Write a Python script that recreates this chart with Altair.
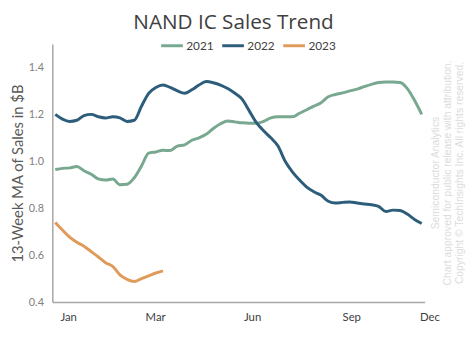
import altair as alt
import pandas as pd

weeks = list(range(1, 53))

sales_2021 = [0.965, 0.970, 0.972, 0.978, 0.960, 0.945, 0.925, 0.920, 0.925, 0.900,
              0.902, 0.930, 0.980, 1.035, 1.040, 1.047, 1.046, 1.065, 1.070, 1.090,
              1.100, 1.115, 1.140, 1.160, 1.172, 1.168, 1.164, 1.162, 1.162, 1.170,
              1.185, 1.190, 1.190, 1.190, 1.205, 1.220, 1.235, 1.250, 1.275, 1.285,
              1.292, 1.300, 1.308, 1.318, 1.328, 1.336, 1.338, 1.338, 1.336, 1.310,
              1.260, 1.200]

sales_2022 = [1.200, 1.180, 1.170, 1.175, 1.195, 1.200, 1.190, 1.185, 1.190, 1.185,
              1.170, 1.175, 1.235, 1.290, 1.315, 1.325, 1.315, 1.300, 1.290, 1.305,
              1.325, 1.340, 1.335, 1.325, 1.310, 1.290, 1.265, 1.215, 1.165, 1.130,
              1.100, 1.065, 1.000, 0.955, 0.920, 0.890, 0.870, 0.855, 0.830, 0.822,
              0.825, 0.827, 0.822, 0.818, 0.815, 0.808, 0.786, 0.792, 0.790, 0.775,
              0.752, 0.735]

sales_2023 = [0.739, 0.707, 0.677, 0.655, 0.638, 0.615, 0.592, 0.568, 0.552, 0.516,
              0.497, 0.488, 0.500, 0.512, 0.524, 0.533]

years = ["2021", "2022", "2023"]
colors = ["#78a890", "#2c5d7b", "#e09a5a"]

tick_weeks = [2.11, 14.21, 27.71, 41.51, 52.41]
tick_labels = ["Jan", "Mar", "Jun", "Sep", "Dec"]

watermark = ["Semiconductor Analytics",
             "Chart approved for public release with attribution.",
             "Copyright \u00a9 TechInsights Inc.  All rights reserved."]

rows = []
for y, series in zip(years, [sales_2021, sales_2022, sales_2023]):
    for w, v in zip(weeks, series):
        rows.append({"week": w, "sales": v, "year": y})
df = pd.DataFrame(rows)

label_expr = " : ".join(
    f"datum.value < {t + 0.5} ? '{l}'" for t, l in zip(tick_weeks[:-1], tick_labels[:-1])
) + f" : '{tick_labels[-1]}'"

W, H = 378, 262

lines = alt.Chart(df).mark_line(strokeWidth=3, interpolate="monotone").encode(
    x=alt.X("week:Q",
            scale=alt.Scale(domain=[0.59, 52.41], nice=False, zero=False),
            axis=alt.Axis(values=tick_weeks, labelExpr=label_expr, title=None,
                          grid=False, ticks=False, labelPadding=10, labelFlush=False,
                          labelFont="Lato", labelFontSize=11.5, labelColor="#404040",
                          domainColor="#a6a6a6", domainWidth=1.5, labelOffset=5)),
    y=alt.Y("sales:Q",
            scale=alt.Scale(domain=[0.4, 1.5], nice=False, zero=False),
            axis=alt.Axis(values=[0.4, 0.6, 0.8, 1.0, 1.2, 1.4], format=".1f",
                          title="13-Week MA of Sales in $B", grid=False, ticks=False,
                          labelPadding=9, labelFont="Lato", labelFontSize=11,
                          labelColor="#808080", titleFont="Lato", titleFontSize=15,
                          titleFontWeight="normal", titleColor="#595959", titlePadding=3,
                          domainColor="#a6a6a6", domainWidth=1.5)),
    color=alt.Color("year:N", scale=alt.Scale(domain=years, range=colors),
                    legend=alt.Legend(orient="none", legendX=109, legendY=-11,
                                      direction="horizontal", title=None,
                                      symbolType="stroke", symbolSize=484,
                                      symbolStrokeWidth=3, labelFont="Lato",
                                      labelFontSize=12, labelColor="#404040",
                                      labelOffset=2, columnPadding=2, padding=0)),
)

marks = [lines]
for i, t in enumerate(watermark):
    marks.append(
        alt.Chart(pd.DataFrame({"t": [t]})).mark_text(
            angle=270, align="center", baseline="middle", font="Liberation Sans",
            fontSize=10.5, color="#dcdcdc"
        ).encode(text="t:N", x=alt.value(390 + 12 * i), y=alt.value(131))
    )

chart = alt.layer(*marks).properties(
    width=W, height=H,
    title=alt.TitleParams("NAND IC Sales Trend", font="Open Sans", fontSize=21,
                          fontWeight="normal", color="#404040", anchor="middle",
                          offset=0, dx=-5),
    autosize=alt.AutoSizeParams(type="none"),
    padding={"left": 45, "top": 34, "right": 42, "bottom": 40},
).configure_view(stroke=None)

chart.save("out.html", embed_options={"renderer": "svg", "actions": False})
